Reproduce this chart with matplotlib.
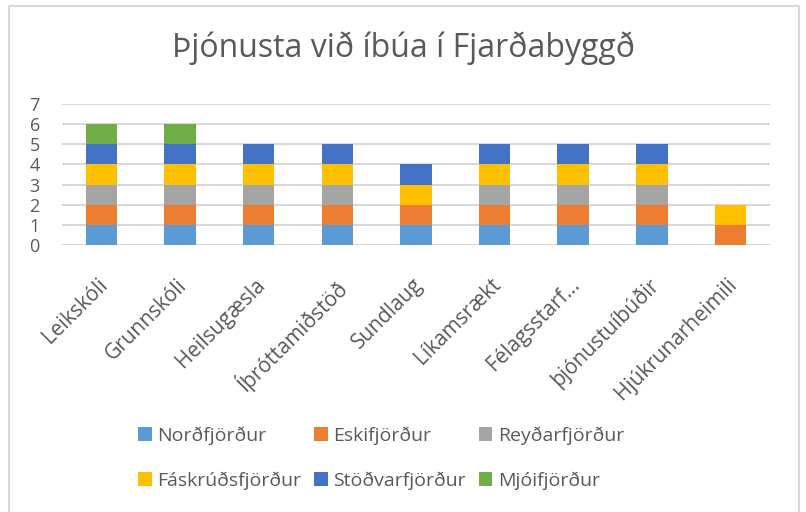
import matplotlib
matplotlib.use("Agg")
import matplotlib.pyplot as plt
import matplotlib.transforms as mtransforms
import numpy as np

plt.rcParams['font.family'] = ['Open Sans', 'DejaVu Sans']

categories = ["Leikskóli", "Grunnskóli", "Heilsugæsla", "Íþróttamiðstöð", "Sundlaug",
              "Líkamsrækt", "Félagsstarf...", "þjónustuíbúðir", "Hjúkrunarheimili"]
series_names = ["Norðfjörður", "Eskifjörður", "Reyðarfjörður",
                "Fáskrúðsfjörður", "Stöðvarfjörður", "Mjóifjörður"]
nordfjordur     = [1, 1, 1, 1, 1, 1, 1, 1, 0]
eskifjordur     = [1, 1, 1, 1, 1, 1, 1, 1, 1]
reydarfjordur   = [1, 1, 1, 1, 0, 1, 1, 1, 0]
faskrudsfjordur = [1, 1, 1, 1, 1, 1, 1, 1, 1]
stodvarfjordur  = [1, 1, 1, 1, 1, 1, 1, 1, 0]
mjoifjordur     = [1, 1, 0, 0, 0, 0, 0, 0, 0]
colors = ["#5B9BD5", "#ED7D31", "#A5A5A5", "#FFC000", "#4472C4", "#70AD47"]

series = [nordfjordur, eskifjordur, reydarfjordur, faskrudsfjordur, stodvarfjordur, mjoifjordur]

fig = plt.figure(figsize=(8.06, 5.12), dpi=100)
ax = fig.add_axes([0.077, 0.521, 0.878, 0.276])
x = np.arange(len(categories))
bottom = np.zeros(len(categories))
for name, vals, c in zip(series_names, series, colors):
    v = np.array(vals, dtype=float)
    ax.bar(x, v, 0.4, bottom=bottom, color=c, label=name, zorder=3)
    bottom += v

ax.set_xlim(-0.5, len(categories) - 0.5)
ax.set_ylim(0, 7)
ax.set_yticks(range(0, 8))
ax.yaxis.grid(True, color="#D9D9D9", linewidth=1.5, zorder=0)
ax.set_axisbelow(True)
for s in ax.spines.values():
    s.set_visible(False)
ax.tick_params(axis='both', length=0, colors="#595959")
ax.tick_params(axis='y', pad=16, labelsize=13)
ax.set_xticks(x)
ax.set_xticklabels(categories, rotation=45, ha='right', va='top',
                   rotation_mode='anchor', fontsize=15, color="#595959")
ax.tick_params(axis='x', pad=21)
shift = mtransforms.ScaledTranslation(-4 / 100, 0, fig.dpi_scale_trans)
for lbl in ax.get_xticklabels():
    lbl.set_transform(lbl.get_transform() + shift)

fig.text(0.5, 0.905, "Þjónusta við íbúa í Fjarðabyggð", ha='center', va='center',
         fontsize=23, color="#595959")

handles, labels = ax.get_legend_handles_labels()
order = [0, 3, 1, 4, 2, 5]
leg = fig.legend([handles[i] for i in order], [labels[i] for i in order],
                 loc='center', bbox_to_anchor=(0.473, 0.105), ncol=3,
                 frameon=False, fontsize=14, labelcolor="#595959",
                 handlelength=0.7, handleheight=0.7, handletextpad=0.3,
                 columnspacing=0.65, labelspacing=1.37)

fig.add_artist(plt.Rectangle((9 / 806, -0.02), 790 / 806, 1.02 - 6 / 512,
                             transform=fig.transFigure,
                             fill=False, edgecolor="#D9D9D9", linewidth=1.5))
fig.savefig("out.png", dpi=100, facecolor="white")
